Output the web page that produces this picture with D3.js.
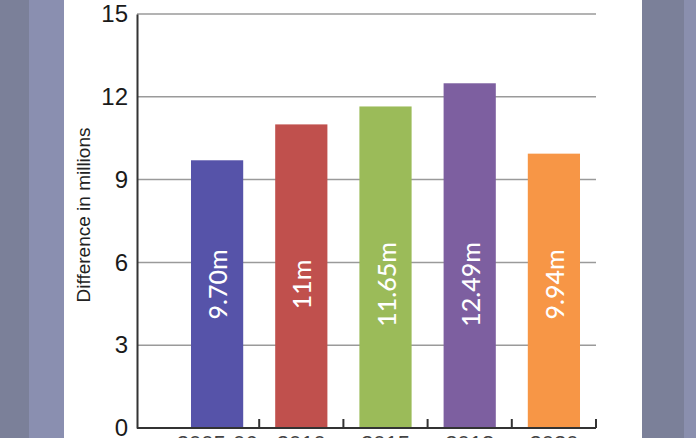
<!DOCTYPE html>
<html><head><meta charset="utf-8">
<script src="https://cdn.jsdelivr.net/npm/d3@7"></script>
<style>html,body{margin:0;padding:0;overflow:hidden;background:#fff}</style>
</head><body>
<script>
const categories = ["2005-06", "2010", "2015", "2018", "2020"];
const values = [9.70, 11, 11.65, 12.49, 9.94];
const valueLabels = ["9.70m", "11m", "11.65m", "12.49m", "9.94m"];
const yTicks = [0, 3, 6, 9, 12, 15];
const colors = ["#5653a9", "#c0504d", "#9bbb59", "#7d5fa0", "#f79646"];
const yTitle = "Difference in millions";

const W = 696, H = 438;
const svg = d3.select("body").append("svg").attr("width", W).attr("height", H);

// background strips
const strips = [[0,29,"#7b8099"],[29,64,"#8a8fb0"],[64,642,"#ffffff"],[642,684,"#7b8099"],[684,696,"#8a8fae"]];
svg.selectAll("rect.bg").data(strips).enter().append("rect")
  .attr("x", d => d[0]).attr("y", 0).attr("width", d => d[1]-d[0]).attr("height", H).attr("fill", d => d[2]);

const x0 = 137, x1 = 596;
const y = d3.scaleLinear().domain([0, 15]).range([428, 14]);
const x = d3.scaleBand().domain(categories).range([175, 596]).paddingInner(0.38).paddingOuter(0.19);

// gridlines
svg.append("g").selectAll("line").data(yTicks.filter(t => t > 0)).enter().append("line")
  .attr("x1", x0).attr("x2", x1).attr("y1", d => y(d)).attr("y2", d => y(d))
  .attr("stroke", "#9a9a9a").attr("stroke-width", 1.5);

// bars
svg.append("g").selectAll("rect").data(categories).enter().append("rect")
  .attr("x", d => x(d)).attr("width", x.bandwidth())
  .attr("y", (d,i) => y(values[i])).attr("height", (d,i) => y(0) - y(values[i]))
  .attr("fill", (d,i) => colors[i]);

// bar labels
svg.append("g").selectAll("text").data(categories).enter().append("text")
  .attr("transform", d => `translate(${x(d) + x.bandwidth()/2},${y(5.2)}) rotate(-90)`)
  .attr("text-anchor", "middle").attr("dominant-baseline", "central")
  .attr("fill", "#ffffff").attr("font-family", "Lato, sans-serif").attr("font-size", 25).attr("font-weight", 500)
  .text((d,i) => valueLabels[i]);

// y axis
const yAxis = d3.axisLeft(y).tickValues(yTicks).tickSize(0).tickPadding(9);
const gy = svg.append("g").attr("transform", `translate(${x0},0)`).call(yAxis);
gy.select(".domain").attr("stroke", "#333").attr("stroke-width", 2);
gy.selectAll("text").attr("font-family", "Liberation Sans, Arial, sans-serif").attr("font-size", 24).attr("fill", "#1a1a1a");

// x axis
const step = x.step();
const gx = svg.append("g");
gx.append("line").attr("x1", x0).attr("x2", x1).attr("y1", y(0)).attr("y2", y(0)).attr("stroke", "#333").attr("stroke-width", 2);
gx.selectAll("line.tk").data(categories).enter().append("line")
  .attr("x1", d => x(d) - x.paddingOuter()*step + step).attr("x2", d => x(d) - x.paddingOuter()*step + step)
  .attr("y1", y(0)).attr("y2", y(0) - 9).attr("stroke", "#333").attr("stroke-width", 2);
gx.selectAll("text").data(categories).enter().append("text")
  .attr("x", d => x(d) + x.bandwidth()/2).attr("y", 435)
  .attr("text-anchor", "middle").attr("dominant-baseline", "hanging")
  .attr("font-family", "Liberation Sans, Arial, sans-serif").attr("font-size", 22).attr("fill", "#444")
  .text(d => d);

// y title
svg.append("text").attr("transform", `translate(83,215) rotate(-90)`)
  .attr("text-anchor", "middle").attr("dominant-baseline", "central")
  .attr("font-family", "Liberation Sans, Arial, sans-serif").attr("font-size", 19).attr("fill", "#222")
  .text(yTitle);
</script>
</body></html>
